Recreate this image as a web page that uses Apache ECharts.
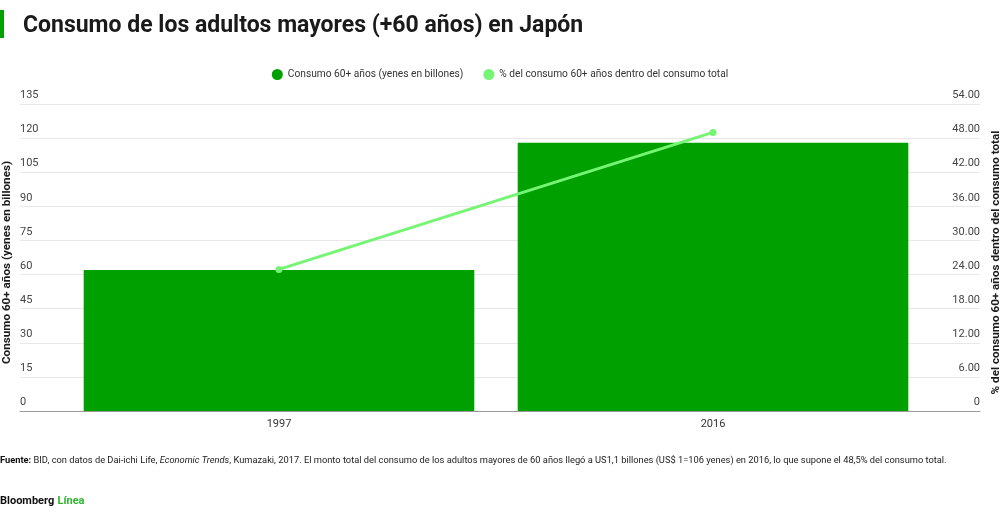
<!DOCTYPE html>
<html>
<head>
<meta charset="utf-8">
<script src="https://cdn.jsdelivr.net/npm/echarts@6/dist/echarts.min.js"></script>
<style>html,body{margin:0;padding:0;background:#fff;}#c{width:1000px;height:514px;}</style>
</head>
<body>
<div id="c"></div>
<script>
const categories = ['1997', '2016'];
const consumo = [62, 118];
const porcentaje = [24.9, 49];
const leftTicks = {min: 0, max: 135, interval: 15};
const rightTicks = {min: 0, max: 54, interval: 6};

const FONT = 'Roboto, "Noto Sans", sans-serif';
const chart = echarts.init(document.getElementById('c'));
const gridTop = 104, gridBottom = 103;
chart.setOption({
  backgroundColor: '#fff',
  textStyle: {fontFamily: FONT},
  title: {
    text: 'Consumo de los adultos mayores (+60 años) en Japón',
    left: 18, top: 10,
    textStyle: {fontFamily: FONT, fontSize: 23, fontWeight: 'bold', color: '#1a1a1a'}
  },
  legend: {
    top: 64, left: 'center',
    icon: 'circle', itemWidth: 11, itemHeight: 11, itemGap: 20,
    textStyle: {fontFamily: FONT, fontSize: 10.2, color: '#333'},
    data: ['Consumo 60+ años (yenes en billones)', '% del consumo 60+ años dentro del consumo total']
  },
  grid: [
    {left: 20, right: 20, top: gridTop, bottom: gridBottom, outerBoundsMode: 'none', containLabel: false},
    {left: 62, right: 70, top: gridTop, bottom: gridBottom, outerBoundsMode: 'none', containLabel: false}
  ],
  xAxis: [
    {gridIndex: 0, type: 'value', min: 0, max: 1, axisLabel: {show: false}, axisTick: {show: false},
     splitLine: {show: false}, axisLine: {show: true, onZero: false, lineStyle: {color: '#999', width: 1}}},
    {gridIndex: 1, type: 'category', data: categories, axisLine: {show: false}, axisTick: {show: false},
     axisLabel: {color: '#333', fontSize: 11, margin: 8, fontFamily: FONT}}
  ],
  yAxis: [
    {gridIndex: 0, type: 'value', position: 'left', min: leftTicks.min, max: leftTicks.max, interval: leftTicks.interval,
     name: 'Consumo 60+ años (yenes en billones)', nameLocation: 'middle', nameRotate: 90, nameGap: 7, nameMoveOverlap: false,
     nameTextStyle: {fontFamily: FONT, fontSize: 11.7, fontWeight: 'bold', color: '#1a1a1a', padding: [0, 10, 0, 0]},
     axisLine: {show: false}, axisTick: {show: false},
     axisLabel: {inside: true, margin: 0, verticalAlign: 'bottom', padding: [0, 0, 3, 0], color: '#444', fontSize: 11, fontFamily: FONT},
     splitLine: {show: true, lineStyle: {color: '#e8e8e8', width: 1}}},
    {gridIndex: 0, type: 'value', position: 'right', min: rightTicks.min, max: rightTicks.max, interval: rightTicks.interval,
     name: '% del consumo 60+ años dentro del consumo total', nameLocation: 'middle', nameRotate: 90, nameGap: 10, nameMoveOverlap: false,
     nameTextStyle: {fontFamily: FONT, fontSize: 11.7, fontWeight: 'bold', color: '#1a1a1a', padding: [0, 10, 0, 0]},
     axisLine: {show: false}, axisTick: {show: false},
     axisLabel: {inside: true, margin: 0, verticalAlign: 'bottom', padding: [0, 0, 3, 0], color: '#444', fontSize: 11, fontFamily: FONT,
       formatter: v => v === 0 ? '0' : v.toFixed(2)},
     splitLine: {show: false}},
    {gridIndex: 1, type: 'value', min: leftTicks.min, max: leftTicks.max, interval: leftTicks.interval, show: false},
    {gridIndex: 1, type: 'value', min: rightTicks.min, max: rightTicks.max, interval: rightTicks.interval, show: false}
  ],
  series: [
    {name: 'Consumo 60+ años (yenes en billones)', type: 'bar', xAxisIndex: 1, yAxisIndex: 2,
     data: consumo, barCategoryGap: '10%', itemStyle: {color: '#00a000'}},
    {name: '% del consumo 60+ años dentro del consumo total', type: 'line', xAxisIndex: 1, yAxisIndex: 3,
     data: porcentaje, symbol: 'circle', symbolSize: 7, lineStyle: {color: '#74f574', width: 3},
     itemStyle: {color: '#74f574'}}
  ],
  graphic: [
    {type: 'rect', left: 0, top: 10, shape: {width: 4, height: 28}, style: {fill: '#00a000'}},
    {type: 'text', left: 0, top: 456, style: {
      text: '{b|Fuente:} BID, con datos de Dai-ichi Life, {i|Economic Trends}, Kumazaki, 2017. El monto total del consumo de los adultos mayores de 60 años llegó a US1,1 billones (US$ 1=106 yenes) en 2016, lo que supone el 48,5% del consumo total.',
      font: '9.3px ' + FONT, fill: '#222',
      rich: {b: {fontWeight: 'bold', fontSize: 9.3, fontFamily: FONT, fill: '#111'},
             i: {fontStyle: 'italic', fontSize: 9.3, fontFamily: FONT, fill: '#222'}}
    }},
    {type: 'text', left: 0, top: 495, style: {
      text: '{b|Bloomberg} {g|Línea}',
      rich: {b: {fontWeight: 'bold', fontSize: 11, fontFamily: FONT, fill: '#111'},
             g: {fontWeight: 'bold', fontSize: 11, fontFamily: FONT, fill: '#2fb52f'}}
    }}
  ]
});
</script>
</body>
</html>
